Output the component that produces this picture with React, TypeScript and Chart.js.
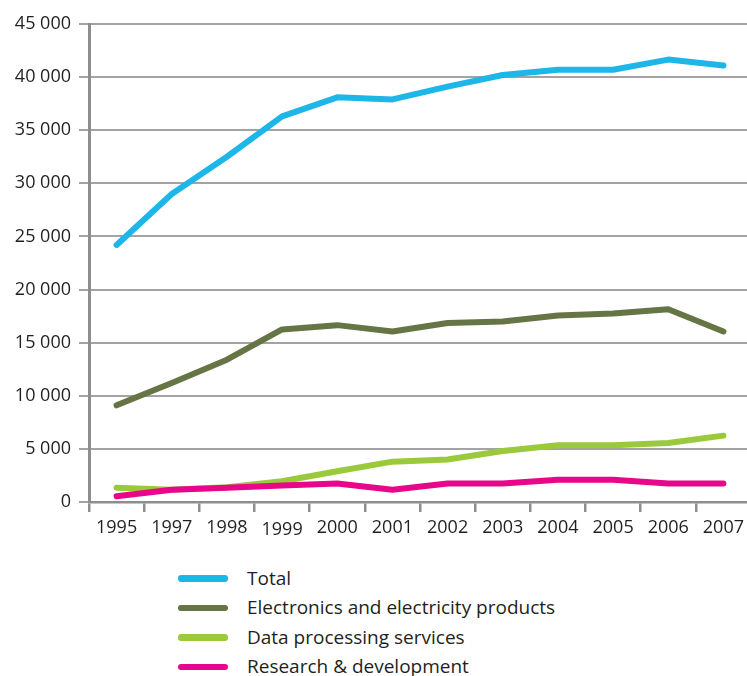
import React, { useEffect, useRef } from "react";
import { Chart, registerables } from "chart.js";

Chart.register(...registerables);

// Years on the horizontal axis (no 1996 entry)
const years = ["1995", "1997", "1998", "1999", "2000", "2001", "2002", "2003", "2004", "2005", "2006", "2007"];

// Series values
const total = [24200, 29000, 32500, 36300, 38100, 37900, 39100, 40200, 40700, 40700, 41650, 41100];
const electronics = [9100, 11200, 13400, 16250, 16650, 16050, 16850, 17000, 17550, 17750, 18150, 16050];
const dataProcessing = [1350, 1150, 1400, 1950, 2900, 3800, 4000, 4800, 5350, 5350, 5550, 6250];
const researchDev = [550, 1150, 1350, 1550, 1750, 1150, 1750, 1750, 2100, 2100, 1750, 1750];

const seriesNames = [
  "Total",
  "Electronics and electricity products",
  "Data processing services",
  "Research & development",
];
const seriesColors = ["#1cb6e9", "#667545", "#9bc93c", "#e8078b"];

const FONT = "'Open Sans', 'Noto Sans', sans-serif";
const TEXT = "#231f20";
const GRID = "#a3a3a5";
const AXIS = "#8e8e90";

const fmt = (v: number) => {
  const s = String(Math.round(v));
  return s.length > 3 ? s.slice(0, -3) + " " + s.slice(-3) : s;
};

function LineChart() {
  const ref = useRef<HTMLCanvasElement | null>(null);

  useEffect(() => {
    if (!ref.current) return;
    const values = [total, electronics, dataProcessing, researchDev];
    const drawOrder = [1, 2, 3, 0];
    const chart = new Chart(ref.current, {
      type: "line",
      data: {
        labels: years,
        datasets: values.map((d, i) => ({
          label: seriesNames[i],
          data: d,
          borderColor: seriesColors[i],
          backgroundColor: seriesColors[i],
          borderWidth: 6,
          borderCapStyle: "round",
          borderJoinStyle: "round",
          pointRadius: 0,
          pointHoverRadius: 0,
          tension: 0,
          fill: false,
          order: drawOrder[i],
        })),
      },
      options: {
        responsive: false,
        animation: false,
        events: [],
        layout: { padding: { top: 24, right: 0, bottom: 0, left: 0 } },
        plugins: {
          legend: { display: false },
          tooltip: { enabled: false },
          title: { display: false },
        },
        scales: {
          x: {
            type: "category",
            offset: true,
            afterFit: (scale: any) => {
              scale.height = 43;
            },
            border: { display: true, color: AXIS, width: 2.5 },
            grid: {
              offset: true,
              drawOnChartArea: false,
              drawTicks: true,
              tickLength: 10,
              color: AXIS,
              lineWidth: 2.5,
            },
            ticks: {
              color: TEXT,
              padding: 5,
              maxRotation: 0,
              autoSkip: false,
              font: (c: any) => ({
                family: FONT,
                size: 18,
                lineHeight: c.index === 3 ? 1.48 : 1.2,
              }),
            },
          },
          y: {
            min: 0,
            max: 45000,
            afterFit: (scale: any) => {
              scale.width = 89;
            },
            border: { display: true, color: AXIS, width: 3 },
            grid: {
              color: GRID,
              lineWidth: 2,
              drawTicks: true,
              tickLength: 10,
            },
            ticks: {
              stepSize: 5000,
              color: TEXT,
              padding: 8,
              font: { family: FONT, size: 18 },
              callback: (v: any) => fmt(Number(v)),
            },
          },
        },
      },
    } as any);
    return () => chart.destroy();
  }, []);

  return (
    <canvas
      ref={ref}
      width={751}
      height={545}
      style={{ position: "absolute", left: 0, top: 0, width: 751, height: 545 }}
    />
  );
}

function Legend() {
  const firstRow = 577.5;
  const pitch = 29.5;
  return (
    <>
      {seriesNames.map((name, i) => {
        const cy = firstRow + i * pitch;
        return (
          <React.Fragment key={name}>
            <div
              style={{
                position: "absolute",
                left: 178,
                top: cy - 3.25 + 1,
                width: 50,
                height: 6.5,
                borderRadius: 3.25,
                background: seriesColors[i],
              }}
            />
            <div
              style={{
                position: "absolute",
                left: 247,
                top: cy - 15,
                height: 30,
                lineHeight: "30px",
                fontFamily: FONT,
                fontSize: 19,
                color: TEXT,
                whiteSpace: "nowrap",
              }}
            >
              {name}
            </div>
          </React.Fragment>
        );
      })}
    </>
  );
}

export default function App() {
  return (
    <div
      style={{
        position: "absolute",
        left: 0,
        top: 0,
        width: 747,
        height: 676,
        overflow: "hidden",
        background: "#ffffff",
      }}
    >
      <LineChart />
      <Legend />
    </div>
  );
}
